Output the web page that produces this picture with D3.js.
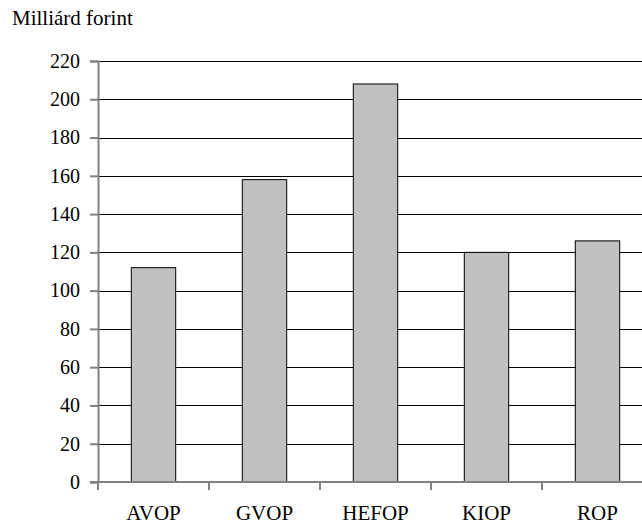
<!DOCTYPE html>
<html>
<head>
<meta charset="utf-8">
<script src="https://cdn.jsdelivr.net/npm/d3@7.9.0/dist/d3.min.js"></script>
<style>
  body { margin: 0; background: #fff; }
  svg text { font-family: "Liberation Serif", "Times New Roman", serif; fill: #000; }
  svg text.ylab { font-size: 20px; }
</style>
</head>
<body>
<svg id="chart" width="642" height="525"></svg>
<script>
const categories = ['AVOP', 'GVOP', 'HEFOP', 'KIOP', 'ROP'];
const values = [112, 158, 208, 120, 126];
const yTicks = [0, 20, 40, 60, 80, 100, 120, 140, 160, 180, 200, 220];
const unitLabel = 'Milliárd forint';

const svg = d3.select('#chart');
const margin = { left: 98, top: 61, bottom: 43 };
const plotW = 555;
const plotH = 525 - margin.top - margin.bottom;

const x = d3.scaleBand().domain(categories).range([margin.left, margin.left + plotW]).padding(0);
const y = d3.scaleLinear().domain([0, 220]).range([margin.top + plotH, margin.top]);

// gridlines
svg.append('g')
  .selectAll('line')
  .data(yTicks.filter(d => d > 0))
  .join('line')
  .attr('x1', margin.left)
  .attr('x2', margin.left + plotW)
  .attr('y1', d => Math.round(y(d)) + 0.5)
  .attr('y2', d => Math.round(y(d)) + 0.5)
  .attr('stroke', '#000')
  .attr('stroke-width', 1);

// bars
const barW = x.bandwidth() * 0.4;
svg.append('g')
  .selectAll('rect')
  .data(categories)
  .join('rect')
  .attr('x', (d) => x(d) + (x.bandwidth() - barW) / 2)
  .attr('y', (d, i) => y(values[i]))
  .attr('width', barW)
  .attr('height', (d, i) => y(0) - y(values[i]))
  .attr('fill', '#c0c0c0')
  .attr('stroke', '#000')
  .attr('stroke-width', 1);

// y axis lines
const yAxis = svg.append('g')
  .attr('transform', `translate(${margin.left},0)`)
  .call(d3.axisLeft(y).tickValues(yTicks).tickSize(8).tickFormat(''));
yAxis.select('.domain').attr('stroke', '#808080').attr('stroke-width', 2);
yAxis.selectAll('.tick line').attr('stroke', '#808080').attr('stroke-width', 2);
yAxis.selectAll('.tick text').remove();

// y labels
svg.append('g')
  .selectAll('text')
  .data(yTicks)
  .join('text')
  .attr('class', 'ylab')
  .attr('x', margin.left - 18)
  .attr('y', d => y(d))
  .attr('dy', '0.34em')
  .attr('text-anchor', 'end')
  .text(d => String(d));

// x axis
const xTickPos = d3.range(categories.length + 1).map(i => margin.left + i * x.step());
const xAxis = svg.append('g')
  .attr('transform', `translate(0,${y(0)})`);
xAxis.append('line')
  .attr('x1', margin.left - 8).attr('x2', margin.left + plotW)
  .attr('stroke', '#808080').attr('stroke-width', 2);
xAxis.selectAll('line.tk')
  .data(xTickPos)
  .join('line')
  .attr('class', 'tk')
  .attr('x1', d => d).attr('x2', d => d)
  .attr('y1', 0).attr('y2', 8)
  .attr('stroke', '#808080').attr('stroke-width', 2);
xAxis.selectAll('text')
  .data(categories)
  .join('text')
  .attr('x', d => x(d) + x.bandwidth() / 2)
  .attr('y', 38)
  .attr('text-anchor', 'middle')
  .style('font-size', '21px')
  .text(d => d);

// unit label
svg.append('text')
  .attr('x', 12)
  .attr('y', 25)
  .style('font-size', '21px')
  .text(unitLabel);
</script>
</body>
</html>
